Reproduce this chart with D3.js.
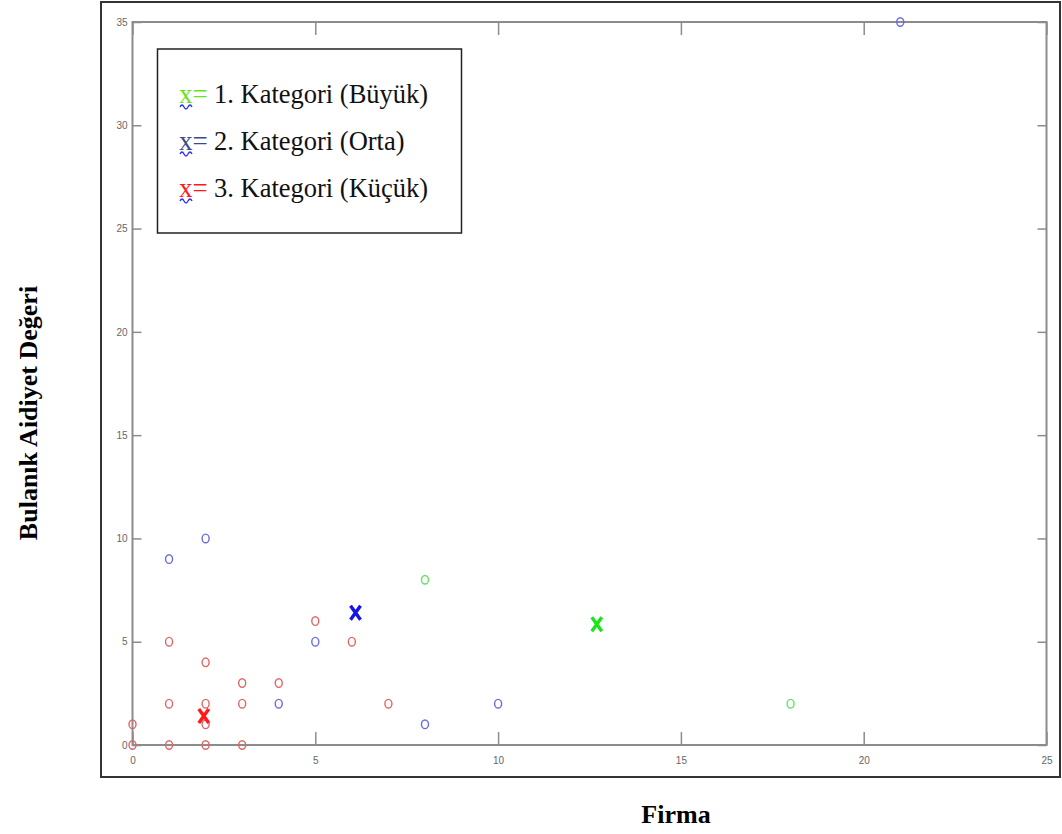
<!DOCTYPE html>
<html>
<head>
<meta charset="utf-8">
<script src="https://cdn.jsdelivr.net/npm/d3@7"></script>
<style>
  body { margin: 0; background: #fff; }
  svg { display: block; }
  .tick text { font-family: "Liberation Sans Narrow", "Liberation Sans", Arial, sans-serif; font-size: 10px; fill: #666; }
</style>
</head>
<body>
<svg id="chart" width="1062" height="834"></svg>
<script>
// firm points per category: [firma, value]
const big = [[8, 8], [18, 2]];
const medium = [[1, 9], [2, 10], [4, 2], [5, 5], [8, 1], [10, 2], [21, 35]];
const small = [[0, 0], [0, 1], [1, 0], [1, 2], [1, 5], [2, 0], [2, 1], [2, 2], [2, 4],
               [3, 0], [3, 2], [3, 3], [4, 3], [5, 6], [6, 5], [7, 2]];
// cluster centres
const centres = [[12.7, 5.85], [6.1, 6.4], [1.95, 1.4]];
const legendLabels = ['1. Kategori (Büyük)', '2. Kategori (Orta)', '3. Kategori (Küçük)'];
const xTicks = [0, 5, 10, 15, 20, 25];
const yTicks = [0, 5, 10, 15, 20, 25, 30, 35];

const pointColors = ['#66e066', '#6b6be0', '#e06666'];
const centreColors = ['#19e619', '#1414e6', '#ff1a1a'];
const legendColors = ['#66e619', '#3a4a8a', '#ff1a1a'];

const svg = d3.select('#chart');
const plotL = 132.5, plotR = 1046.5, plotT = 22, plotB = 745;
const serif = '"Liberation Serif", "Times New Roman", serif';

const x = d3.scaleLinear().domain([0, 25]).range([plotL, plotR]);
const y = d3.scaleLinear().domain([0, 35]).range([plotB, plotT]);

// outer frame
svg.append('rect')
    .attr('x', 101).attr('y', 2).attr('width', 959).attr('height', 775)
    .attr('fill', 'none').attr('stroke', '#333').attr('stroke-width', 2);

// axes box
svg.append('rect')
    .attr('x', plotL).attr('y', plotT).attr('width', plotR - plotL).attr('height', plotB - plotT)
    .attr('fill', 'none').attr('stroke', '#8c8c8c').attr('stroke-width', 2);

svg.append('g').attr('transform', `translate(0,${plotB})`)
    .call(d3.axisBottom(x).tickValues(xTicks).tickSizeInner(-13).tickSizeOuter(0).tickPadding(12));
svg.append('g').attr('transform', `translate(${plotL},0)`)
    .call(d3.axisLeft(y).tickValues(yTicks).tickSizeInner(-9).tickSizeOuter(0).tickPadding(5));
svg.append('g').attr('transform', `translate(0,${plotT})`)
    .call(d3.axisTop(x).tickValues(xTicks).tickSizeInner(-13).tickSizeOuter(0).tickFormat(''));
svg.append('g').attr('transform', `translate(${plotR},0)`)
    .call(d3.axisRight(y).tickValues(yTicks).tickSizeInner(-9).tickSizeOuter(0).tickFormat(''));
svg.selectAll('.domain').remove();
svg.selectAll('.tick line').attr('stroke', '#8c8c8c').attr('stroke-width', 1.5);

// points
[big, medium, small].forEach((data, i) => {
  svg.append('g').selectAll('ellipse')
    .data(data).enter()
    .append('ellipse')
      .attr('cx', d => x(d[0]))
      .attr('cy', d => y(d[1]))
      .attr('rx', 3.5).attr('ry', 4.3)
      .attr('fill', 'none')
      .attr('stroke', pointColors[i])
      .attr('stroke-width', 1.4);
});

// centres as bold x
const hw = 5, hh = 7;
svg.append('g').selectAll('path')
  .data(centres).enter()
  .append('path')
    .attr('d', d => {
      const cx = x(d[0]), cy = y(d[1]);
      return `M${cx - hw},${cy - hh}L${cx + hw},${cy + hh}M${cx + hw},${cy - hh}L${cx - hw},${cy + hh}`;
    })
    .attr('stroke', (d, i) => centreColors[i])
    .attr('stroke-width', 3.4)
    .attr('fill', 'none');

// legend
const legend = svg.append('g');
legend.append('rect')
    .attr('x', 157.5).attr('y', 49).attr('width', 304).attr('height', 184)
    .attr('fill', '#fff').attr('stroke', '#222').attr('stroke-width', 1.5);
const rows = legend.selectAll('g.row')
  .data(legendLabels).enter()
  .append('g').attr('class', 'row')
  .attr('transform', (d, i) => `translate(0,${103 + i * 47})`);
rows.append('text')
    .attr('x', 179).attr('y', 0)
    .attr('font-family', serif)
    .attr('font-size', 27)
    .attr('fill', (d, i) => legendColors[i])
    .text('x=');
rows.append('path')
    .attr('d', 'M180,4 q2,-4 4,0 t4,0 t4,0')
    .attr('stroke', '#2b2bff').attr('stroke-width', 1.3).attr('fill', 'none');
rows.append('text')
    .attr('x', 214).attr('y', 0)
    .attr('font-family', serif)
    .attr('font-size', 26.5)
    .attr('fill', '#111')
    .text(d => d);

// axis titles
svg.append('text')
    .attr('transform', 'translate(37,413) rotate(-90)')
    .attr('text-anchor', 'middle')
    .attr('font-family', serif)
    .attr('font-weight', 'bold').attr('font-size', 26)
    .text('Bulanık Aidiyet Değeri');
svg.append('text')
    .attr('x', 676).attr('y', 823)
    .attr('text-anchor', 'middle')
    .attr('font-family', serif)
    .attr('font-weight', 'bold').attr('font-size', 26)
    .text('Firma');
</script>
</body>
</html>
